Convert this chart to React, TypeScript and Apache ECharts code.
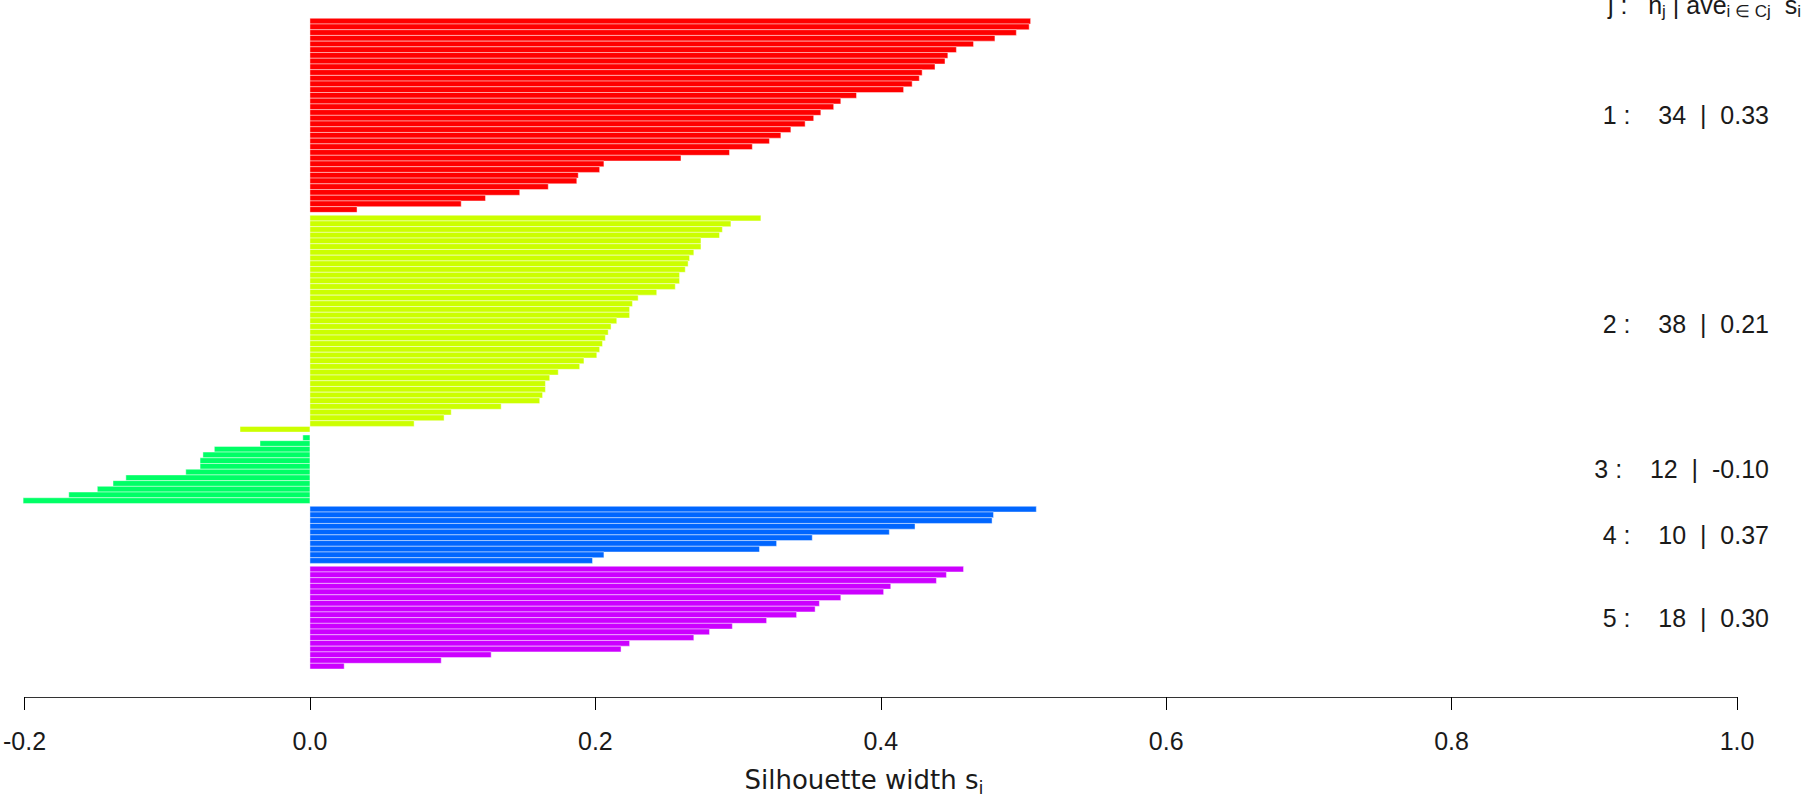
import React, { useEffect, useRef } from "react";
import * as echarts from "echarts";

// Silhouette widths per cluster (sorted descending within each cluster)
const cluster1 = [0.505, 0.504, 0.495, 0.48, 0.465, 0.453, 0.447, 0.445, 0.438, 0.429, 0.427, 0.422, 0.416, 0.383, 0.372, 0.367, 0.358, 0.353, 0.347, 0.337, 0.33, 0.322, 0.31, 0.294, 0.26, 0.206, 0.203, 0.188, 0.187, 0.167, 0.147, 0.123, 0.106, 0.033];
const cluster2 = [0.316, 0.295, 0.289, 0.287, 0.274, 0.274, 0.269, 0.266, 0.265, 0.263, 0.259, 0.259, 0.256, 0.243, 0.23, 0.226, 0.224, 0.224, 0.215, 0.211, 0.209, 0.207, 0.205, 0.203, 0.201, 0.192, 0.189, 0.174, 0.168, 0.165, 0.165, 0.163, 0.161, 0.134, 0.099, 0.094, 0.073, -0.049];
const cluster3 = [-0.005, -0.035, -0.067, -0.075, -0.077, -0.077, -0.087, -0.129, -0.138, -0.149, -0.169, -0.201];
const cluster4 = [0.509, 0.479, 0.478, 0.424, 0.406, 0.352, 0.327, 0.315, 0.206, 0.198];
const cluster5 = [0.458, 0.446, 0.439, 0.407, 0.402, 0.372, 0.357, 0.354, 0.341, 0.32, 0.296, 0.28, 0.269, 0.224, 0.218, 0.127, 0.092, 0.024];

const clusterIds = [1, 2, 3, 4, 5];
const clusterSizes = [34, 38, 12, 10, 18];
const clusterAverages = [0.33, 0.21, -0.1, 0.37, 0.3];
const clusterColors = ["#FF0000", "#CCFF00", "#00FF66", "#0066FF", "#CC00FF"];
const clusterGap = 0.5;

const xMin = -0.2;
const xMax = 1.0;
const xInterval = 0.2;

const FONT = "'Liberation Sans', Arial, Helvetica, sans-serif";
const TITLE_FONT = "'DejaVu Sans', 'Liberation Sans', sans-serif";
const TEXT_COLOR = "#1a1a1a";

export default function App() {
  const ref = useRef<HTMLDivElement>(null);

  useEffect(() => {
    if (!ref.current) return;
    const chart = echarts.init(ref.current, null, { renderer: "svg" });

    const clusters = [cluster1, cluster2, cluster3, cluster4, cluster5];
    const barData: number[][] = [];
    const labelData: number[][] = [];
    const labelTexts: string[] = [];
    let pos = 0;
    clusters.forEach((vals, k) => {
      if (k > 0) pos += clusterGap;
      const start = pos;
      vals.forEach((v) => {
        barData.push([v, pos, k]);
        pos += 1;
      });
      labelData.push([xMax, (start + pos) / 2]);
      labelTexts.push(
        `${clusterIds[k]} :    ${clusterSizes[k]}  |  ${clusterAverages[k].toFixed(2)}`
      );
    });
    const totalHeight = pos;

    chart.setOption({
      animation: false,
      backgroundColor: "#ffffff",
      grid: { left: 24, right: 68, top: 18.3, bottom: 132, containLabel: false },
      xAxis: {
        type: "value",
        min: xMin,
        max: xMax,
        interval: xInterval,
        offset: 28,
        axisLine: { show: true, onZero: false, lineStyle: { color: "#333", width: 1 } },
        axisTick: { show: true, length: 13, lineStyle: { color: "#000", width: 1 } },
        axisLabel: {
          formatter: (v: number) => v.toFixed(1),
          fontSize: 25,
          fontFamily: FONT,
          color: TEXT_COLOR,
          margin: 31,
        },
        splitLine: { show: false },
      },
      yAxis: {
        type: "value",
        inverse: true,
        min: 0,
        max: totalHeight,
        show: false,
      },
      graphic: [
        {
          type: "text",
          x: 1801,
          y: -10.7,
          silent: true,
          style: {
            text: "{b|j :   n}{s|j}{b| | ave}{s|i ∈ Cj}{b|  s}{s|i}",
            align: "right",
            verticalAlign: "top",
            rich: {
              b: { fontSize: 25, fontFamily: FONT, fill: TEXT_COLOR, lineHeight: 25 },
              s: { fontSize: 17, fontFamily: FONT, fill: TEXT_COLOR, lineHeight: 31, verticalAlign: "bottom" },
            },
          },
        },
        {
          type: "text",
          x: 864,
          y: 764,
          silent: true,
          style: {
            text: "{b|Silhouette width s}{s|i}",
            align: "center",
            verticalAlign: "top",
            rich: {
              b: { fontSize: 26, fontFamily: TITLE_FONT, fill: TEXT_COLOR, lineHeight: 26 },
              s: { fontSize: 18, fontFamily: TITLE_FONT, fill: TEXT_COLOR, lineHeight: 32, verticalAlign: "bottom" },
            },
          },
        },
      ],
      series: [
        {
          type: "custom",
          clip: false,
          silent: true,
          encode: { x: 0, y: 1 },
          data: barData,
          renderItem: (params: any, api: any) => {
            const v = api.value(0);
            const s = api.value(1);
            const k = api.value(2);
            const p0 = api.coord([0, s]);
            const p1 = api.coord([v, s + 1]);
            return {
              type: "rect",
              shape: {
                x: Math.min(p0[0], p1[0]),
                y: Math.min(p0[1], p1[1]),
                width: Math.abs(p1[0] - p0[0]),
                height: Math.abs(p1[1] - p0[1]),
              },
              style: {
                fill: clusterColors[k],
                stroke: "rgba(255,255,255,0.55)",
                lineWidth: 0.8,
              },
            };
          },
        },
        {
          type: "custom",
          clip: false,
          silent: true,
          encode: { x: 0, y: 1 },
          data: labelData,
          renderItem: (params: any, api: any) => {
            const p = api.coord([api.value(0), api.value(1)]);
            return {
              type: "text",
              x: p[0] + 32,
              y: p[1],
              style: {
                text: labelTexts[params.dataIndex],
                fill: TEXT_COLOR,
                fontSize: 25,
                fontFamily: FONT,
                align: "right",
                verticalAlign: "middle",
              },
            };
          },
        },
      ],
    });

    return () => chart.dispose();
  }, []);

  return (
    <div
      ref={ref}
      style={{ position: "absolute", left: 0, top: 0, width: 1805, height: 801, background: "#fff" }}
    />
  );
}
